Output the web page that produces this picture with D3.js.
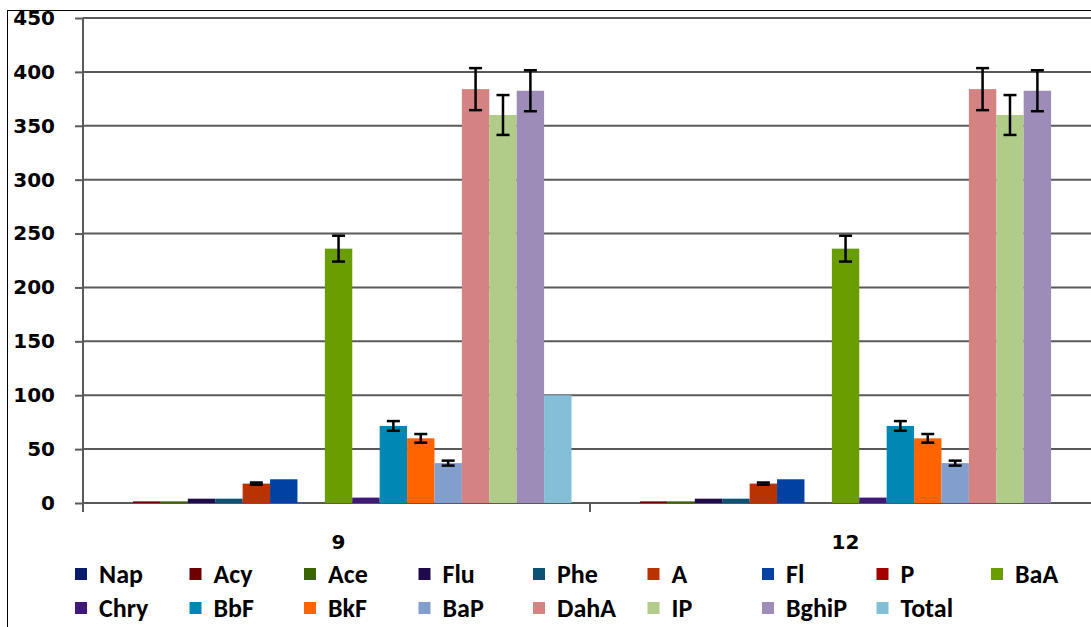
<!DOCTYPE html>
<html><head><meta charset="utf-8">
<script src="https://cdn.jsdelivr.net/npm/d3@7"></script>
<style>
html,body{margin:0;padding:0;background:#fff;}
svg{display:block;}
text{font-family:"Carlito","Lato",sans-serif;font-weight:bold;fill:#000;}
</style></head>
<body>
<svg id="chart" width="1091" height="627"></svg>
<script>
const categories = ["9", "12"];
const seriesNames = ["Nap","Acy","Ace","Flu","Phe","A","Fl","P","BaA","Chry","BbF","BkF","BaP","DahA","IP","BghiP","Total"];
const seriesColors = ["#0C1C6C","#6E0000","#3B6500","#1E0A4C","#0B5274","#B93300","#0041A3","#A50000","#6A9E00","#401877","#0087B4","#FF6400","#829ECD","#D48282","#B1CB88","#9D8CB7","#85BED7"];
const values9  = [0, 1.5, 1.5, 4, 4, 18, 22, 0, 236, 5, 71.5, 60, 37, 384, 360, 382.5, 100];
const values12 = [0, 1.5, 1.5, 4, 4, 18, 22, 0, 236, 5, 71.5, 60, 37, 384, 360, 382.5, null];
const errors9  = [null, null, null, null, null, 1, null, null, 12, null, 4.5, 4, 2.3, 19.5, 18.5, 19, null];
const errors12 = [null, null, null, null, null, 1, null, null, 12, null, 4.5, 4, 2.3, 19.5, 18.5, 19, null];
const yTicks = [0,50,100,150,200,250,300,350,400,450];

(function(){
const valuesByCat = [values9, values12];
const errorsByCat = [errors9, errors12];

const svg = d3.select("#chart");
const pLeft = 83, pRight = 1097, pTop = 18, pBottom = 503;

const x0 = d3.scaleBand().domain(categories).range([pLeft, pRight]).paddingInner(0).paddingOuter(0);
const x1 = d3.scaleBand().domain(seriesNames).range([0, x0.bandwidth()]).paddingInner(0).paddingOuter(0.75).align(0.55);
const y = d3.scaleLinear().domain([0, 450]).range([pBottom, pTop]);

// frame
svg.append("rect").attr("x",7.5).attr("y",10.5).attr("width",1100).attr("height",700)
  .attr("fill","none").attr("stroke","#000").attr("stroke-width",1);

// gridlines
svg.append("g").selectAll("line").data(yTicks).join("line")
  .attr("x1", pLeft).attr("x2", 1091).attr("y1", d=>y(d)).attr("y2", d=>y(d))
  .attr("stroke","#5a5a5a").attr("stroke-width",2);

// y axis
const yAxis = d3.axisLeft(y).tickValues(yTicks).tickSize(8).tickPadding(20).tickFormat(d3.format("d"));
const gy = svg.append("g").attr("transform",`translate(${pLeft},0)`).call(yAxis);
gy.select(".domain").attr("stroke","#5a5a5a").attr("stroke-width",2).attr("d",`M0,${y(450)}V${pBottom+9}`);
gy.selectAll(".tick line").attr("stroke","#5a5a5a").attr("stroke-width",2);
gy.selectAll(".tick text").style("font-family","'DejaVu Sans',sans-serif").style("font-weight","bold").style("font-size","20px").attr("fill","#000");

// x axis
const gx = svg.append("g").attr("transform",`translate(0,${pBottom})`);
gx.append("line").attr("x1",pLeft).attr("x2",1091).attr("y1",0).attr("y2",0).attr("stroke","#5a5a5a").attr("stroke-width",2);
gx.selectAll("line.t").data([pLeft, x0("12"), pRight]).join("line").attr("class","t")
  .attr("x1",d=>d).attr("x2",d=>d).attr("y1",0).attr("y2",9).attr("stroke","#5a5a5a").attr("stroke-width",2);
gx.selectAll("text").data(categories).join("text")
  .attr("x", d=>x0(d)+x0.bandwidth()/2 + 2).attr("y", 46)
  .attr("text-anchor","middle").style("font-family","'DejaVu Sans',sans-serif").style("font-size","20px").text(d=>d);

// bars
const groups = svg.append("g").selectAll("g").data(categories).join("g")
  .attr("transform", d=>`translate(${x0(d)},0)`);
groups.each(function(cat, ci){
  const g = d3.select(this);
  const data = seriesNames.map((s,i)=>({s, i, v: valuesByCat[ci][i], e: errorsByCat[ci][i]})).filter(d=>d.v!=null && d.v>0);
  g.selectAll("rect").data(data).join("rect")
    .attr("x", d=>x1(d.s)).attr("width", x1.bandwidth())
    .attr("y", d=>y(d.v)).attr("height", d=>y(0)-y(d.v))
    .attr("fill", d=>seriesColors[d.i]);
  const eb = data.filter(d=>d.e!=null);
  const cx = d=>x1(d.s)+x1.bandwidth()/2;
  g.selectAll("line.ev").data(eb).join("line").attr("class","ev")
    .attr("x1",cx).attr("x2",cx).attr("y1",d=>y(d.v+d.e)).attr("y2",d=>y(d.v-d.e))
    .attr("stroke","#000").attr("stroke-width",2.5);
  ["p","m"].forEach(sg=>{
    g.selectAll("line.c"+sg).data(eb).join("line").attr("class","c"+sg)
      .attr("x1",d=>cx(d)-6.5).attr("x2",d=>cx(d)+6.5)
      .attr("y1",d=>y(sg=="p"?d.v+d.e:d.v-d.e)).attr("y2",d=>y(sg=="p"?d.v+d.e:d.v-d.e))
      .attr("stroke","#000").attr("stroke-width",2.5);
  });
});

// legend
const legend = svg.append("g");
const perRow = 9, colW = 114.5, lx0 = 75, ly0 = 574, rowH = 34;
seriesNames.forEach((s,i)=>{
  const r = Math.floor(i/perRow), c = i%perRow;
  const lx = lx0 + c*colW, ly = ly0 + r*rowH;
  legend.append("rect").attr("x",lx).attr("y",ly-6).attr("width",12).attr("height",12).attr("fill",seriesColors[i]);
  legend.append("text").attr("x",lx+24).attr("y",ly+9).style("font-size","26px").text(s);
});
})();
</script>
</body></html>
